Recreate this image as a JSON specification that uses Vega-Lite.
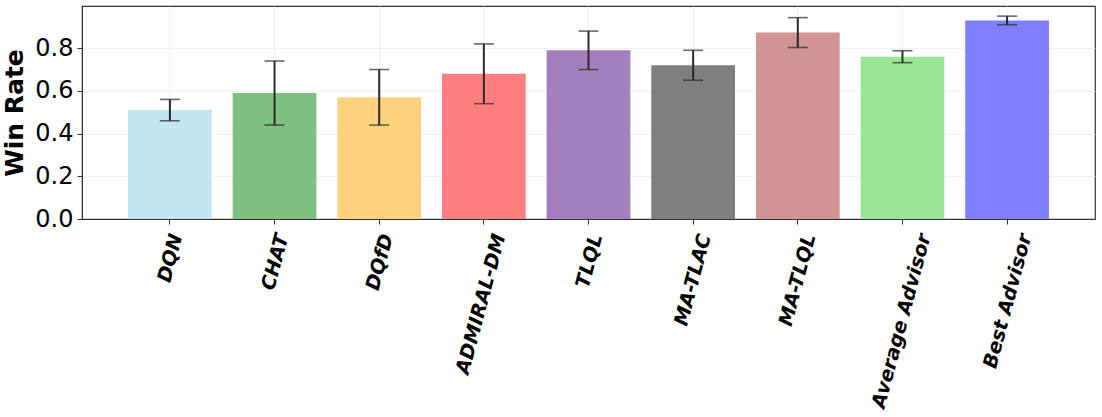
{
  "$schema": "https://vega.github.io/schema/vega-lite/v6.json",
  "autosize": "none",
  "width": 1013,
  "height": 213,
  "padding": {"left": 82, "top": 6, "right": 7, "bottom": 198},
  "background": "white",
  "config": {
    "font": "DejaVu Sans",
    "view": {"stroke": "#333333", "strokeWidth": 1.2},
    "axis": {"domainColor": "#333333", "tickColor": "#333333", "gridColor": "#ededed", "gridWidth": 0.8, "labelColor": "#000000", "titleColor": "#000000"}
  },
  "data": {
    "values": [
      {"model": "DQN", "rate": 0.51, "err": 0.05},
      {"model": "CHAT", "rate": 0.59, "err": 0.15},
      {"model": "DQfD", "rate": 0.57, "err": 0.13},
      {"model": "ADMIRAL-DM", "rate": 0.68, "err": 0.14},
      {"model": "TLQL", "rate": 0.79, "err": 0.09},
      {"model": "MA-TLAC", "rate": 0.72, "err": 0.07},
      {"model": "MA-TLQL", "rate": 0.873, "err": 0.07},
      {"model": "Average Advisor", "rate": 0.76, "err": 0.028},
      {"model": "Best Advisor", "rate": 0.93, "err": 0.02}
    ]
  },
  "encoding": {
    "x": {
      "field": "model",
      "type": "nominal",
      "sort": null,
      "scale": {"paddingInner": 0.2, "paddingOuter": 0.44},
      "axis": {
        "title": null,
        "labelAngle": -75,
        "labelAlign": "right",
        "labelBaseline": "middle",
        "labelFontSize": 19.5,
        "labelFontWeight": "bold",
        "labelFontStyle": "italic",
        "labelPadding": 10,
        "labelOffset": {"expr": "3 + 1.3*length(datum.label)"},
        "tickSize": 5,
        "bandPosition": 0.5,
        "grid": true,
        "labelOverlap": false,
        "labelLimit": 0
      }
    },
    "y": {
      "field": "rate",
      "type": "quantitative",
      "scale": {"domain": [0, 0.9975], "nice": false, "zero": true},
      "axis": {
        "title": "Win Rate",
        "titleFontSize": 25,
        "titleFontWeight": "bold",
        "titlePadding": 7,
        "labelFontSize": 24,
        "labelPadding": 4,
        "tickSize": 5,
        "values": [0, 0.2, 0.4, 0.6, 0.8],
        "format": ".1f",
        "grid": true
      }
    }
  },
  "layer": [
    {
      "mark": {"type": "bar"},
      "encoding": {
        "color": {
          "field": "model",
          "type": "nominal",
          "legend": null,
          "scale": {
            "domain": ["DQN", "CHAT", "DQfD", "ADMIRAL-DM", "TLQL", "MA-TLAC", "MA-TLQL", "Average Advisor", "Best Advisor"],
            "range": ["#C3E6F5", "#7FBF7F", "#FFD27F", "#FF7F7F", "#A47FBE", "#7F7F7F", "#D09494", "#9AE598", "#7F7FFF"]
          }
        }
      }
    },
    {
      "mark": {"type": "errorbar", "color": "#2a2a2a", "thickness": 2, "ticks": {"size": 20, "thickness": 1.6, "color": "#2a2a2a"}},
      "encoding": {
        "yError": {"field": "err"}
      }
    }
  ]
}
